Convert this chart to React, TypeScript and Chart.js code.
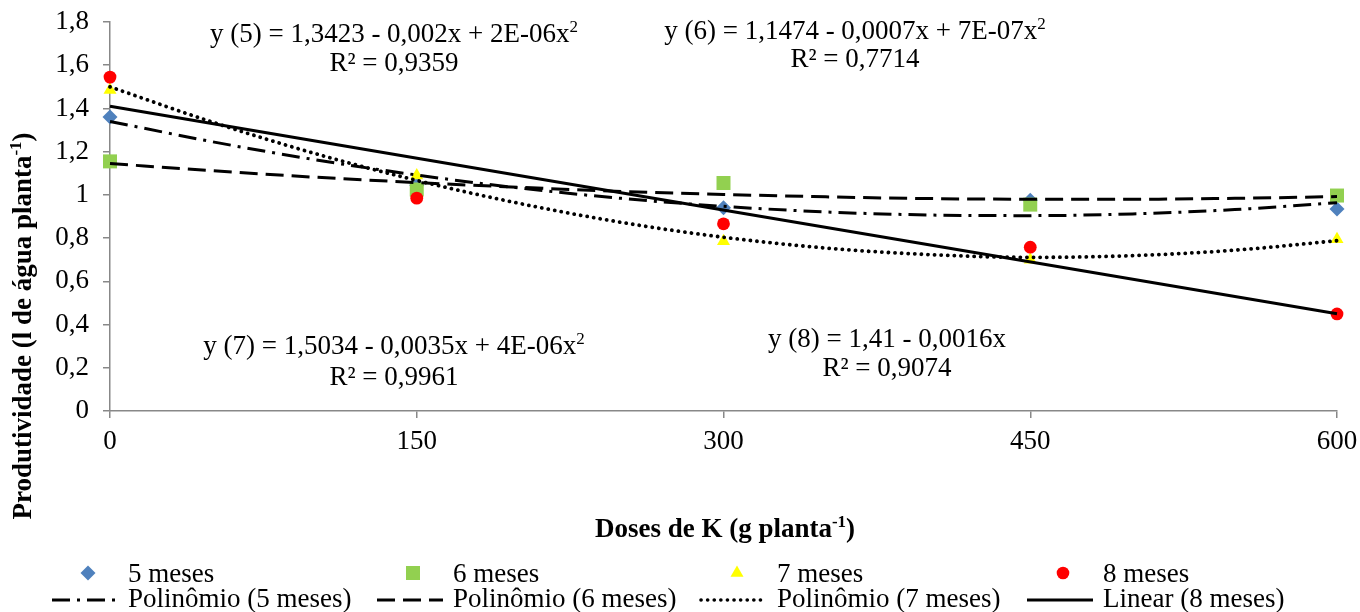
import React, { useEffect, useRef } from 'react';
import { Chart, registerables } from 'chart.js';

Chart.register(...registerables);

// ---------- data ----------
const doses = [0, 150, 300, 450, 600];
const meses5 = [1.36, 1.045, 0.94, 0.975, 0.935];
const meses6 = [1.155, 1.025, 1.055, 0.955, 0.997];
const meses7 = [1.485, 1.09, 0.785, 0.7, 0.795];
const meses8 = [1.545, 0.985, 0.866, 0.758, 0.449];

const trendX = [0, 50, 100, 150, 200, 250, 300, 350, 400, 450, 500, 550, 600];
const poly5 = [1.34, 1.246, 1.163, 1.092, 1.032, 0.984, 0.947, 0.921, 0.907, 0.904, 0.912, 0.932, 0.964];
const poly6 = [1.145, 1.112, 1.082, 1.057, 1.035, 1.016, 1.002, 0.991, 0.983, 0.98, 0.98, 0.984, 0.992];
const poly7 = [1.5, 1.337, 1.192, 1.067, 0.961, 0.873, 0.804, 0.754, 0.724, 0.711, 0.719, 0.744, 0.788];
const linearX = [0, 600];
const linear8 = [1.41, 0.45];

const xTicks = [0, 150, 300, 450, 600];
const seriesLabels = ['5 meses', '6 meses', '7 meses', '8 meses'];
const trendLabels = ['Polinômio (5 meses)', 'Polinômio (6 meses)', 'Polinômio (7 meses)', 'Linear (8 meses)'];
const eq5 = ['y (5) = 1,3423 - 0,002x + 2E-06x', 'R² = 0,9359'];
const eq6 = ['y (6) = 1,1474 - 0,0007x + 7E-07x', 'R² = 0,7714'];
const eq7 = ['y (7) = 1,5034 - 0,0035x + 4E-06x', 'R² = 0,9961'];
const eq8 = ['y (8) = 1,41 - 0,0016x', 'R² = 0,9074'];
const xTitle = ['Doses de K (g planta', '-1', ')'];
const yTitle = ['Produtividade (l de água planta', '-1', ')'];

// ---------- styles ----------
const FONT = "'Liberation Serif', 'Times New Roman', serif";
const FS = 27;
const AXIS = '#888888';
const BLUE = '#4F81BD';
const GREEN = '#92D050';
const YELLOW = '#FFFF00';
const RED = '#FF0000';
const DASHDOT = [18, 7, 3, 7];
const DASHED = [18, 8];
const DOTTED = [0.1, 6.5];

const pts = (xs: number[], ys: number[]) => xs.map((x, i) => ({ x, y: ys[i] }));
const fmt = (v: number) => String(Math.round(v * 10) / 10).replace('.', ',');

// parts: [main, superscript, main?]
function drawRich(ctx: CanvasRenderingContext2D, parts: string[], cx: number, y: number, bold: boolean) {
  const w = bold ? 'bold ' : '';
  const main = `${w}${FS}px ${FONT}`;
  const sup = `${w}17px ${FONT}`;
  const fonts = parts.map((_, i) => (i === 1 ? sup : main));
  const widths = parts.map((p, i) => {
    ctx.font = fonts[i];
    return ctx.measureText(p).width;
  });
  const total = widths.reduce((a, b) => a + b, 0);
  let x = cx - total / 2;
  ctx.textAlign = 'left';
  ctx.textBaseline = 'alphabetic';
  parts.forEach((p, i) => {
    ctx.font = fonts[i];
    ctx.fillText(p, x, i === 1 ? y - 10 : y);
    x += widths[i];
  });
}

function drawMarker(ctx: CanvasRenderingContext2D, kind: number, x: number, y: number) {
  ctx.beginPath();
  if (kind === 0) {
    ctx.fillStyle = BLUE;
    const r = 7.5;
    ctx.moveTo(x, y - r); ctx.lineTo(x + r, y); ctx.lineTo(x, y + r); ctx.lineTo(x - r, y);
  } else if (kind === 1) {
    ctx.fillStyle = GREEN;
    ctx.rect(x - 7, y - 7, 14, 14);
  } else if (kind === 2) {
    ctx.fillStyle = YELLOW;
    const r = 7.5;
    ctx.moveTo(x, y - r); ctx.lineTo(x + r * 0.866, y + r * 0.5); ctx.lineTo(x - r * 0.866, y + r * 0.5);
  } else {
    ctx.fillStyle = RED;
    ctx.arc(x, y, 6.3, 0, Math.PI * 2);
  }
  ctx.closePath();
  ctx.fill();
}

const textPlugin = {
  id: 'textPlugin',
  afterDraw(chart: any) {
    const ctx: CanvasRenderingContext2D = chart.ctx;
    ctx.save();
    ctx.fillStyle = '#000';
    // equations
    const eqs: [string[], boolean, number, number, number][] = [
      [eq5, true, 394, 42, 71],
      [eq6, true, 855, 39, 67],
      [eq7, true, 394, 354, 385],
      [eq8, false, 887, 347, 376],
    ];
    for (const [lines, quad, cx, y1, y2] of eqs) {
      ctx.fillStyle = '#000';
      if (quad) {
        drawRich(ctx, [lines[0], '2'], cx, y1, false);
      } else {
        drawRich(ctx, [lines[0]], cx, y1, false);
      }
      drawRich(ctx, [lines[1]], cx, y2, false);
    }
    // axis titles
    drawRich(ctx, xTitle, 725, 537, true);
    ctx.save();
    ctx.translate(31, 326);
    ctx.rotate(-Math.PI / 2);
    drawRich(ctx, yTitle, 0, 0, true);
    ctx.restore();
    // legend
    const cols = [128, 453, 777, 1103];
    const dashes = [DASHDOT, DASHED, DOTTED, []];
    ctx.textAlign = 'left';
    ctx.textBaseline = 'alphabetic';
    cols.forEach((tx, i) => {
      ctx.fillStyle = '#000';
      ctx.font = `${FS}px ${FONT}`;
      ctx.fillText(seriesLabels[i], tx, 582);
      ctx.fillText(trendLabels[i], tx, 607);
      drawMarker(ctx, i, tx - 40, 573);
      ctx.save();
      ctx.strokeStyle = '#000';
      ctx.lineWidth = i === 2 ? 3.6 : 3;
      ctx.lineCap = i === 2 ? 'round' : 'butt';
      ctx.setLineDash(dashes[i]);
      ctx.beginPath();
      ctx.moveTo(tx - 76, 600);
      ctx.lineTo(tx - 10, 600);
      ctx.stroke();
      ctx.restore();
    });
    ctx.restore();
  },
};

export default function App() {
  const ref = useRef<HTMLCanvasElement | null>(null);
  useEffect(() => {
    if (!ref.current) return;
    const lineBase = {
      showLine: true,
      pointRadius: 0,
      borderColor: '#000',
      backgroundColor: '#000',
      fill: false,
      clip: false,
      cubicInterpolationMode: 'monotone' as const,
    };
    const pointBase = { showLine: false, pointBorderWidth: 0, borderWidth: 0, clip: false };
    const chart = new Chart(ref.current, {
      type: 'scatter',
      data: {
        datasets: [
          { ...lineBase, label: trendLabels[3], data: pts(linearX, linear8), borderWidth: 3, order: 1 },
          { ...lineBase, label: trendLabels[2], data: pts(trendX, poly7), borderWidth: 3.8, borderDash: DOTTED, borderCapStyle: 'round', order: 2 },
          { ...lineBase, label: trendLabels[1], data: pts(trendX, poly6), borderWidth: 3, borderDash: DASHED, order: 3 },
          { ...lineBase, label: trendLabels[0], data: pts(trendX, poly5), borderWidth: 3, borderDash: DASHDOT, order: 4 },
          { ...pointBase, label: seriesLabels[3], data: pts(doses, meses8), pointStyle: 'circle', pointRadius: 6.4, backgroundColor: RED, borderColor: RED, order: 5 },
          { ...pointBase, label: seriesLabels[2], data: pts(doses, meses7), pointStyle: 'triangle', pointRadius: 7.5, backgroundColor: YELLOW, borderColor: YELLOW, order: 6 },
          { ...pointBase, label: seriesLabels[1], data: pts(doses, meses6), pointStyle: 'rect', pointRadius: 9.9, backgroundColor: GREEN, borderColor: GREEN, order: 7 },
          { ...pointBase, label: seriesLabels[0], data: pts(doses, meses5), pointStyle: 'rectRot', pointRadius: 7.5, backgroundColor: BLUE, borderColor: BLUE, order: 8 },
        ] as any,
      },
      options: {
        responsive: false,
        animation: false,
        layout: { padding: { top: 22, right: 23, bottom: 0, left: 0 } },
        plugins: { legend: { display: false }, tooltip: { enabled: false } },
        scales: {
          x: {
            type: 'linear',
            min: 0,
            max: 600,
            afterFit: (s: any) => { s.height = 201; },
            afterBuildTicks: (s: any) => { s.ticks = xTicks.map((v) => ({ value: v })); },
            ticks: { color: '#000', font: { family: FONT, size: FS, lineHeight: 1.6 }, padding: 2, maxRotation: 0, autoSkip: false },
            grid: { drawOnChartArea: false, drawTicks: true, tickLength: 7, color: AXIS, lineWidth: 1.5 },
            border: { color: AXIS, width: 1.5 },
          },
          y: {
            min: 0,
            max: 1.8,
            afterFit: (s: any) => { s.width = 110; },
            ticks: { stepSize: 0.2, color: '#000', font: { family: FONT, size: FS, lineHeight: 0.5 }, padding: 14, callback: (v: any) => fmt(Number(v)) },
            grid: { drawOnChartArea: false, drawTicks: true, tickLength: 7, color: AXIS, lineWidth: 1.5 },
            border: { color: AXIS, width: 1.5 },
          },
        },
      } as any,
      plugins: [textPlugin],
    });
    return () => chart.destroy();
  }, []);
  return (
    <div style={{ position: 'absolute', left: 0, top: 0, width: 1360, height: 612, background: '#fff' }}>
      <canvas ref={ref} width={1360} height={612} style={{ display: 'block' }} />
    </div>
  );
}
